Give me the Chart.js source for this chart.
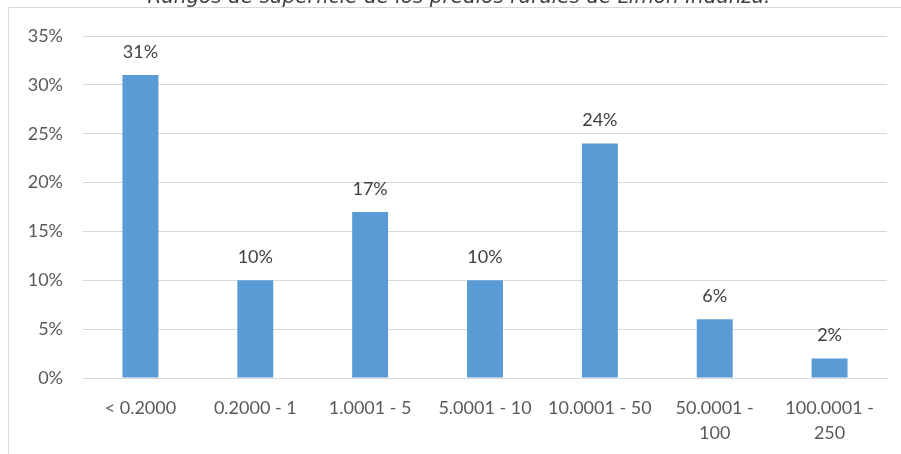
<!DOCTYPE html>
<html>
<head>
<meta charset="utf-8">
<script src="https://cdn.jsdelivr.net/npm/chart.js@4/dist/chart.umd.min.js"></script>
<style>
  html, body { margin: 0; padding: 0; background: #fff; }
  #wrap { width: 901px; height: 454px; position: relative; }
</style>
</head>
<body>
<div id="wrap"><canvas id="chart" width="901" height="454"></canvas></div>
<script>
const chartTitle = 'Rangos de superficie de los predios rurales de Limón Indanza.';
const categories = [
    '< 0.2000',
    '0.2000 - 1',
    '1.0001 - 5',
    '5.0001 - 10',
    '10.0001 - 50',
    ['50.0001 -', '100'],
    ['100.0001 -', '250']
];
const percentValues = [31, 10, 17, 10, 24, 6, 2];
const yTicks = [0, 5, 10, 15, 20, 25, 30, 35];

const barColor = '#5B9BD5';
const gridColor = '#D9D9D9';
const tickColor = '#595959';
const labelColor = '#404040';
const baseFont = 'Lato, "Open Sans", sans-serif';

// frame + cut-off title above it
const framePlugin = {
    id: 'frame',
    beforeDraw(chart) {
        const ctx = chart.ctx;
        ctx.save();
        ctx.fillStyle = '#fff';
        ctx.fillRect(0, 0, chart.width, chart.height);
        ctx.strokeStyle = gridColor;
        ctx.lineWidth = 1;
        ctx.beginPath();
        ctx.moveTo(8.5, chart.height);
        ctx.lineTo(8.5, 7.5);
        ctx.lineTo(chart.width, 7.5);
        ctx.stroke();
        ctx.fillStyle = labelColor;
        ctx.font = 'italic 20px "DejaVu Sans", sans-serif';
        ctx.textAlign = 'center';
        ctx.textBaseline = 'alphabetic';
        ctx.fillText(chartTitle, 459, 3);
        ctx.restore();
    }
};

const valueLabels = {
    id: 'valueLabels',
    afterDatasetsDraw(chart) {
        const ctx = chart.ctx;
        const meta = chart.getDatasetMeta(0);
        ctx.save();
        ctx.fillStyle = labelColor;
        ctx.font = '18px ' + baseFont;
        ctx.textAlign = 'center';
        ctx.textBaseline = 'middle';
        meta.data.forEach((bar, i) => {
            ctx.fillText(percentValues[i] + '%', bar.x, bar.y - 23);
        });
        ctx.restore();
    }
};

new Chart(document.getElementById('chart'), {
    type: 'bar',
    data: {
        labels: categories,
        datasets: [{
            data: percentValues,
            backgroundColor: barColor,
            borderWidth: 0,
            barPercentage: 0.313,
            categoryPercentage: 1
        }]
    },
    options: {
        responsive: false,
        animation: false,
        layout: { padding: { left: 0, right: 14, top: 36, bottom: 0 } },
        plugins: {
            legend: { display: false },
            tooltip: { enabled: false }
        },
        scales: {
            x: {
                grid: { display: false, drawTicks: false },
                border: { display: true, color: gridColor, width: 1 },
                ticks: {
                    color: tickColor,
                    font: { family: baseFont, size: 18, lineHeight: 1.39 },
                    padding: 18,
                    maxRotation: 0,
                    autoSkip: false
                },
                afterFit(scale) { scale.height = 76; }
            },
            y: {
                min: 0,
                max: 35,
                afterBuildTicks(scale) { scale.ticks = yTicks.map(v => ({ value: v })); },
                grid: { color: gridColor, lineWidth: 1, drawTicks: false },
                border: { display: false },
                ticks: {
                    color: tickColor,
                    font: { family: baseFont, size: 18 },
                    padding: 20,
                    callback: v => v + '%'
                },
                afterFit(scale) { scale.width = 83; }
            }
        }
    },
    plugins: [framePlugin, valueLabels]
});
</script>
</body>
</html>
